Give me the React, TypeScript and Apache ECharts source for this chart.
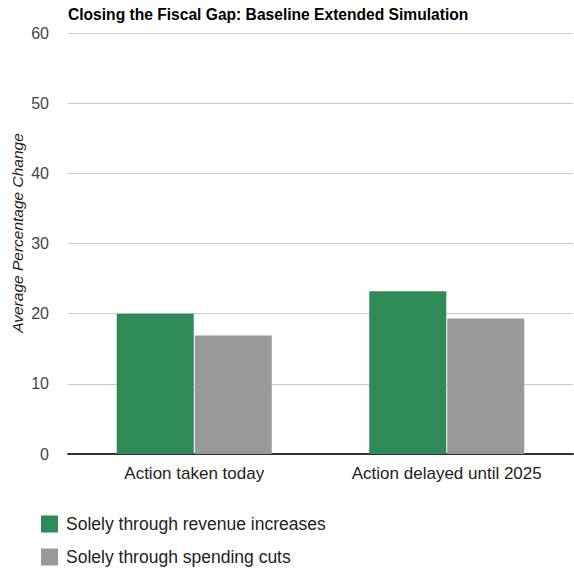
import React, { useEffect, useRef } from "react";
import * as echarts from "echarts";

const categories = ["Action taken today", "Action delayed until 2025"];
const revenueValues = [20, 23.2];
const spendingValues = [16.9, 19.3];
const seriesNames = ["Solely through revenue increases", "Solely through spending cuts"];
const titleText = "Closing the Fiscal Gap: Baseline Extended Simulation";
const yAxisName = "Average Percentage Change";

export default function App() {
  const ref = useRef<HTMLDivElement>(null);
  useEffect(() => {
    document.body.style.margin = "0";
    const chart = echarts.init(ref.current!, undefined, { renderer: "svg" });
    const font = "Liberation Sans, Arial, sans-serif";
    chart.setOption({
      animation: false,
      backgroundColor: "#ffffff",
      textStyle: { fontFamily: font },
      title: {
        text: titleText,
        left: 63,
        top: 1,
        textStyle: { fontFamily: font, fontSize: 15.6, fontWeight: "bold", color: "#000" },
      },
      graphic: [
        {
          type: "text",
          x: 9,
          y: 233,
          rotation: Math.PI / 2,
          style: {
            text: yAxisName,
            font: "italic 15.5px Liberation Sans, Arial, sans-serif",
            fill: "#222",
            align: "center",
            verticalAlign: "top",
          },
        },
      ],
      legend: {
        orient: "vertical",
        left: 41,
        top: 515,
        padding: 0,
        itemWidth: 17,
        itemHeight: 17,
        itemGap: 15,
        icon: "rect",
        textStyle: { fontFamily: font, fontSize: 17.5, color: "#222", padding: [0, 0, 0, 3] },
        data: seriesNames,
      },
      grid: { left: 68, right: 1, top: 33, bottom: 119, containLabel: false },
      xAxis: {
        type: "category",
        data: categories,
        axisLine: { show: true, lineStyle: { color: "#333", width: 2 } },
        axisTick: { show: false },
        axisLabel: { fontFamily: font, fontSize: 17, color: "#222", margin: 11 },
      },
      yAxis: {
        type: "value",
        min: 0,
        max: 60,
        interval: 10,
        axisLine: { show: false },
        axisTick: { show: false },
        splitLine: { lineStyle: { color: "#cccccc", width: 1 } },
        axisLabel: { fontFamily: font, fontSize: 16, color: "#444", margin: 19 },
      },
      series: [
        {
          name: seriesNames[0],
          type: "bar",
          data: revenueValues,
          barWidth: 77,
          barGap: "1.3%",
          itemStyle: { color: "#2e8b57" },
        },
        {
          name: seriesNames[1],
          type: "bar",
          data: spendingValues,
          barWidth: 77,
          barGap: "1.3%",
          itemStyle: { color: "#999999" },
        },
      ],
    });
    return () => chart.dispose();
  }, []);
  return <div ref={ref} style={{ width: 574, height: 573 }} />;
}
